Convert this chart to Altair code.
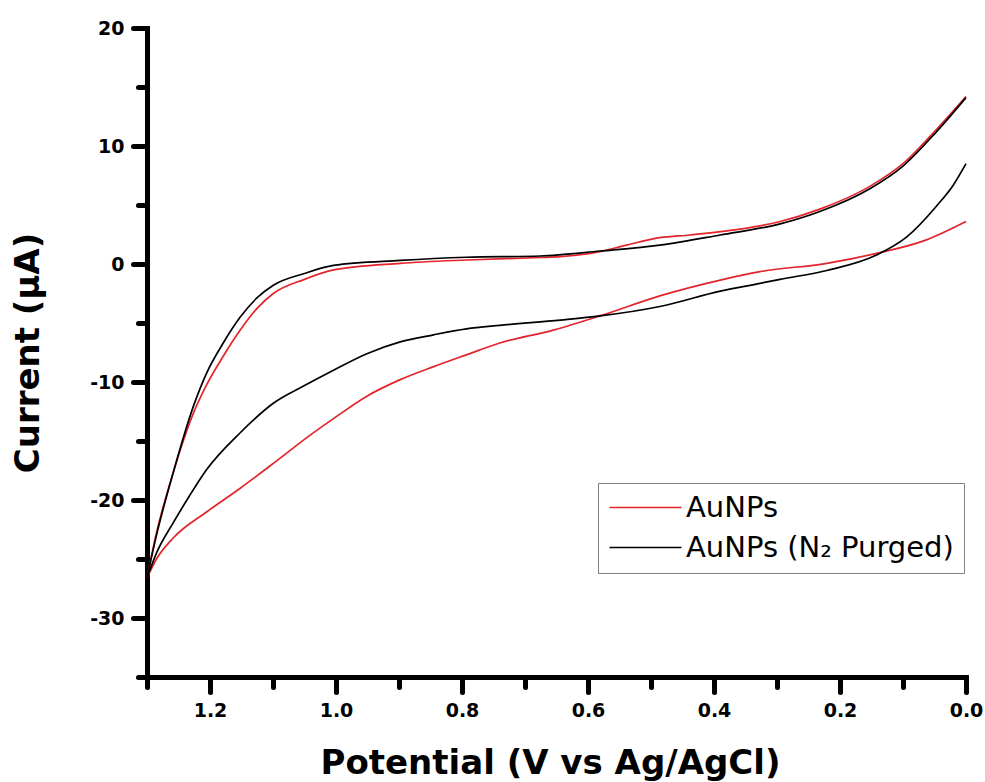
import altair as alt
import pandas as pd

series_names = ["AuNPs", "AuNPs (N₂ Purged)"]
series_colors = ["#e3242b", "#000000"]

# AuNPs (red) - upper (anodic) branch and lower (return) branch
red_up_v = [0.0, 0.047, 0.1, 0.152, 0.232, 0.295, 0.39, 0.438, 0.486, 0.539, 0.581, 0.644, 0.676,
            0.793, 0.898, 1.004, 1.05, 1.0995, 1.126, 1.152, 1.18, 1.205, 1.226, 1.258, 1.285, 1.3]
red_up_i = [14.2, 11.4, 8.5, 6.6, 4.65, 3.6, 2.74, 2.46, 2.23, 1.6, 1.05, 0.62, 0.55,
            0.34, 0.06, -0.5, -1.3, -2.5, -3.8, -5.6, -7.9, -10.2, -12.6, -17.6, -22.8, -26.6]
red_lo_v = [0.0, 0.065, 0.142, 0.221, 0.327, 0.39, 0.486, 0.581, 0.655, 0.74, 0.793, 0.845,
            0.898, 0.951, 1.004, 1.041, 1.0995, 1.152, 1.205, 1.258, 1.285, 1.3]
red_lo_i = [3.6, 2.0, 0.9, 0.06, -0.65, -1.36, -2.7, -4.4, -5.6, -6.7, -7.7, -8.7,
            -9.8, -11.2, -13.1, -14.5, -16.9, -19.0, -21.0, -23.2, -25.0, -26.6]

# AuNPs (N2 purged) (black)
black_up_v = [0.0, 0.047, 0.1, 0.152, 0.232, 0.295, 0.39, 0.486, 0.581, 0.676, 0.793, 0.898,
              1.004, 1.05, 1.0995, 1.126, 1.152, 1.179, 1.205, 1.226, 1.258, 1.285, 1.3]
black_up_i = [14.1, 11.2, 8.3, 6.4, 4.45, 3.4, 2.46, 1.6, 1.1, 0.68, 0.57, 0.3,
              -0.12, -0.8, -1.8, -2.9, -4.5, -6.7, -9.2, -12.0, -17.6, -23.0, -26.6]
black_lo_v = [0.0, 0.02, 0.047, 0.094, 0.142, 0.221, 0.295, 0.327, 0.39, 0.486, 0.581, 0.644,
              0.74, 0.793, 0.845, 0.898, 0.951, 1.004, 1.05, 1.0995, 1.152, 1.205, 1.232,
              1.258, 1.285, 1.3]
black_lo_i = [8.5, 6.7, 4.9, 2.3, 0.76, -0.55, -1.3, -1.64, -2.3, -3.6, -4.4, -4.75,
              -5.2, -5.5, -6.0, -6.6, -7.6, -9.0, -10.3, -11.8, -14.3, -17.4, -19.6,
              -21.9, -24.5, -26.6]

x_major = [1.2, 1.0, 0.8, 0.6, 0.4, 0.2, 0.0]
x_minor = [1.3, 1.1, 0.9, 0.7, 0.5, 0.3, 0.1]
y_major = [20, 10, 0, -10, -20, -30]
y_minor = [15, 5, -5, -15, -25, -35]

rows = []
for name, branch, vs, cs in [
    (series_names[0], "up", red_up_v, red_up_i),
    (series_names[0], "lo", red_lo_v, red_lo_i),
    (series_names[1], "up", black_up_v, black_up_i),
    (series_names[1], "lo", black_lo_v, black_lo_i),
]:
    for v, c in zip(vs, cs):
        rows.append({"V": v, "I": c, "series": name, "branch": name + "_" + branch})
df = pd.DataFrame(rows)

BOLD = "DejaVu Sans"
LEG = "DejaVu Sans"

x_scale = alt.Scale(domain=[0, 1.3], reverse=True, nice=False, zero=False)
y_scale = alt.Scale(domain=[-35, 20], nice=False, zero=False)

major_x = alt.Axis(values=x_major, format=".1f", orient="bottom", grid=False,
                   domainColor="black", domainWidth=5, domainCap="square",
                   tickColor="black", tickWidth=5, tickSize=15, tickCap="round",
                   labelFont=BOLD, labelFontSize=19, labelFontWeight="bold", labelColor="black",
                   labelPadding=9, labelFlush=False,
                   title="Potential (V vs Ag/AgCl)", titleFont=BOLD, titleFontSize=34,
                   titleFontWeight="bold", titleColor="black", titleBaseline="alphabetic",
                   titleX=403, titleY=96)
major_y = alt.Axis(values=y_major, labelExpr="datum.value", orient="left", grid=False,
                   domainColor="black", domainWidth=5, domainCap="square",
                   tickColor="black", tickWidth=5, tickSize=14, tickCap="round",
                   labelFont=BOLD, labelFontSize=19, labelFontWeight="bold", labelColor="black",
                   labelPadding=9, labelFlush=False,
                   title="Current (μA)", titleFont=BOLD, titleFontSize=34,
                   titleFontWeight="bold", titleColor="black", titleBaseline="alphabetic", titleX=-109)
minor_x = alt.Axis(values=x_minor, orient="bottom", grid=False, domain=False, labels=False,
                   tickColor="black", tickWidth=5, tickSize=10, tickCap="round", title=None)
minor_y = alt.Axis(values=y_minor, orient="left", grid=False, domain=False, labels=False,
                   tickColor="black", tickWidth=5, tickSize=9, tickCap="round", title=None)

minor = alt.Chart(df).mark_line(opacity=0).encode(
    x=alt.X("V:Q", scale=x_scale, axis=minor_x),
    y=alt.Y("I:Q", scale=y_scale, axis=minor_y),
    detail="branch:N",
    order="V:Q",
)

lines = alt.Chart(df).mark_line(strokeWidth=1.7, interpolate="monotone").encode(
    x=alt.X("V:Q", scale=x_scale, axis=major_x),
    y=alt.Y("I:Q", scale=y_scale, axis=major_y),
    color=alt.Color("series:N",
                    scale=alt.Scale(domain=series_names, range=series_colors),
                    legend=alt.Legend(title=None, orient="none", legendX=451, legendY=455,
                                      symbolType="M-4,0H4", symbolSize=324, symbolStrokeWidth=1.7,
                                      symbolOffset=23, labelOffset=26,
                                      labelFont=LEG, labelFontSize=29, labelColor="black",
                                      labelLimit=500, rowPadding=10,
                                      padding=10, strokeColor="#808080")),
    detail="branch:N",
    order="V:Q",
)

chart = alt.layer(minor, lines).resolve_axis(x="independent", y="independent").properties(
    width=819, height=649,
    autosize=alt.AutoSizeParams(type="none"),
    padding={"left": 147, "top": 28, "right": 19, "bottom": 105},
    background="white",
).configure_view(strokeWidth=0)

chart.save("out.html", embed_options={"renderer": "svg", "actions": False})
